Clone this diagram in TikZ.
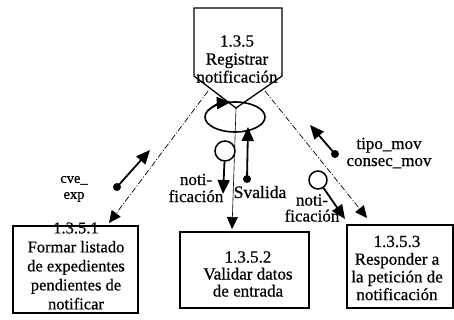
\documentclass[tikz,border=0pt]{standalone}
\usepackage{fontspec}
\setmainfont{Liberation Serif}[FakeBold=0.6]
\usetikzlibrary{arrows.meta}
\begin{document}
\begin{tikzpicture}[x=1pt,y=-1pt,
  boxline/.style={draw, line width=1.3pt, line join=miter},
  boxshape/.style={boxline, inner sep=0pt},
  txt/.style={align=center, inner sep=0pt},
  dashflow/.style={line width=0.7pt, dash pattern=on 6pt off 2pt on 1pt off 2pt, -{Triangle[length=12pt,width=11pt]}},
  thinflow/.style={line width=0.6pt, -{Triangle[length=12pt,width=11pt]}},
  couple/.style={line width=1.8pt, -{Triangle[length=14pt,width=12pt]}},
  opencirc/.style={circle, draw, line width=1.5pt, inner sep=0pt, fill=white},
  dotc/.style={circle, fill, minimum size=8pt, inner sep=0pt},
  loopline/.style={line width=1.6pt}
]
\useasboundingbox (0,0) rectangle (454,320);

% main process (pentagon)
\coordinate (pA) at (194,8);
\coordinate (pB) at (282,8);
\coordinate (pC) at (282,76);
\coordinate (pD) at (236,108);
\coordinate (pE) at (194,76);
\draw[boxline] (pA) -- (pB) -- (pC) -- (pD) -- (pE) -- cycle;
\node[txt, font={\fontsize{17}{18}\selectfont}] (pt) at (237,59) {1.3.5\\Registrar\\notificación};

% loop
\coordinate (loopc) at (235,117);
\draw[loopline] (loopc) ellipse [x radius=30, y radius=15];
\draw[loopline, -{Triangle[length=14pt,width=12pt]}] (loopc) ++(205:30 and 15) arc[start angle=205, end angle=262, x radius=30, y radius=15];

% boxes
\node[boxshape, minimum width=125pt, minimum height=87pt] (b1) at (75.5,269.5) {};
\node[txt, font={\fontsize{16.5}{19}\selectfont}] (b1t) at (76,266) {1.3.5.1\\Formar listado\\de expedientes\\pendientes de\\notificar};

\node[boxshape, minimum width=129pt, minimum height=76pt] (b2) at (244.5,270) {};
\node[txt, font={\fontsize{17}{17}\selectfont}] (b2t) at (248,274) {1.3.5.2\\Validar datos\\de entrada};

\node[boxshape, minimum width=106pt, minimum height=83pt] (b3) at (400,266.5) {};
\node[txt, font={\fontsize{17}{17.7}\selectfont}] (b3t) at (397,268) {1.3.5.3\\Responder a\\la petición de\\notificación};

% flows from the process to the sub-boxes
\coordinate (pl) at (208,91);
\coordinate (b1in) at (109,223);
\draw[dashflow] (pl) -- (b1in);
\coordinate (pr) at (265,91);
\coordinate (b3in) at (367,218);
\draw[dashflow] (pr) -- (b3in);
\coordinate (b2in) at (232,229);
\draw[thinflow] (pD) -- (b2in);

% couples
\node[opencirc, minimum size=20pt] (c1) at (225,151) {};
\coordinate (c1t) at (223,194);
\draw[couple] (c1) -- (c1t);

\node[dotc] (d1) at (247,179) {};
\coordinate (d1t) at (248,127);
\draw[couple] (d1.center) -- (d1t);

\node[opencirc, minimum size=18pt] (c2) at (318,180) {};
\coordinate (c2t) at (345,219);
\draw[couple] (c2) -- (c2t);

\node[dotc] (d2) at (335,154) {};
\coordinate (d2t) at (310,125);
\draw[couple] (d2.center) -- (d2t);

\node[dotc] (d3) at (117,187) {};
\coordinate (d3t) at (150,150);
\draw[couple] (d3.center) -- (d3t);

% labels
\node[txt, font={\fontsize{17}{17}\selectfont}] (l1) at (196,188) {noti-\\ficación};
\node[txt, anchor=base, font={\fontsize{17.5}{18}\selectfont}] (l2) at (260,198) {Svalida};
\node[txt, font={\fontsize{17}{16}\selectfont}] (l3) at (312,208) {noti-\\ficación};
\node[txt, font={\fontsize{17}{17}\selectfont}] (l4) at (389,153) {tipo\_mov\\consec\_mov};
\node[txt, font={\fontsize{14.5}{16}\selectfont}] (l5) at (74,189) {cve\_\\exp};
\end{tikzpicture}
\end{document}
